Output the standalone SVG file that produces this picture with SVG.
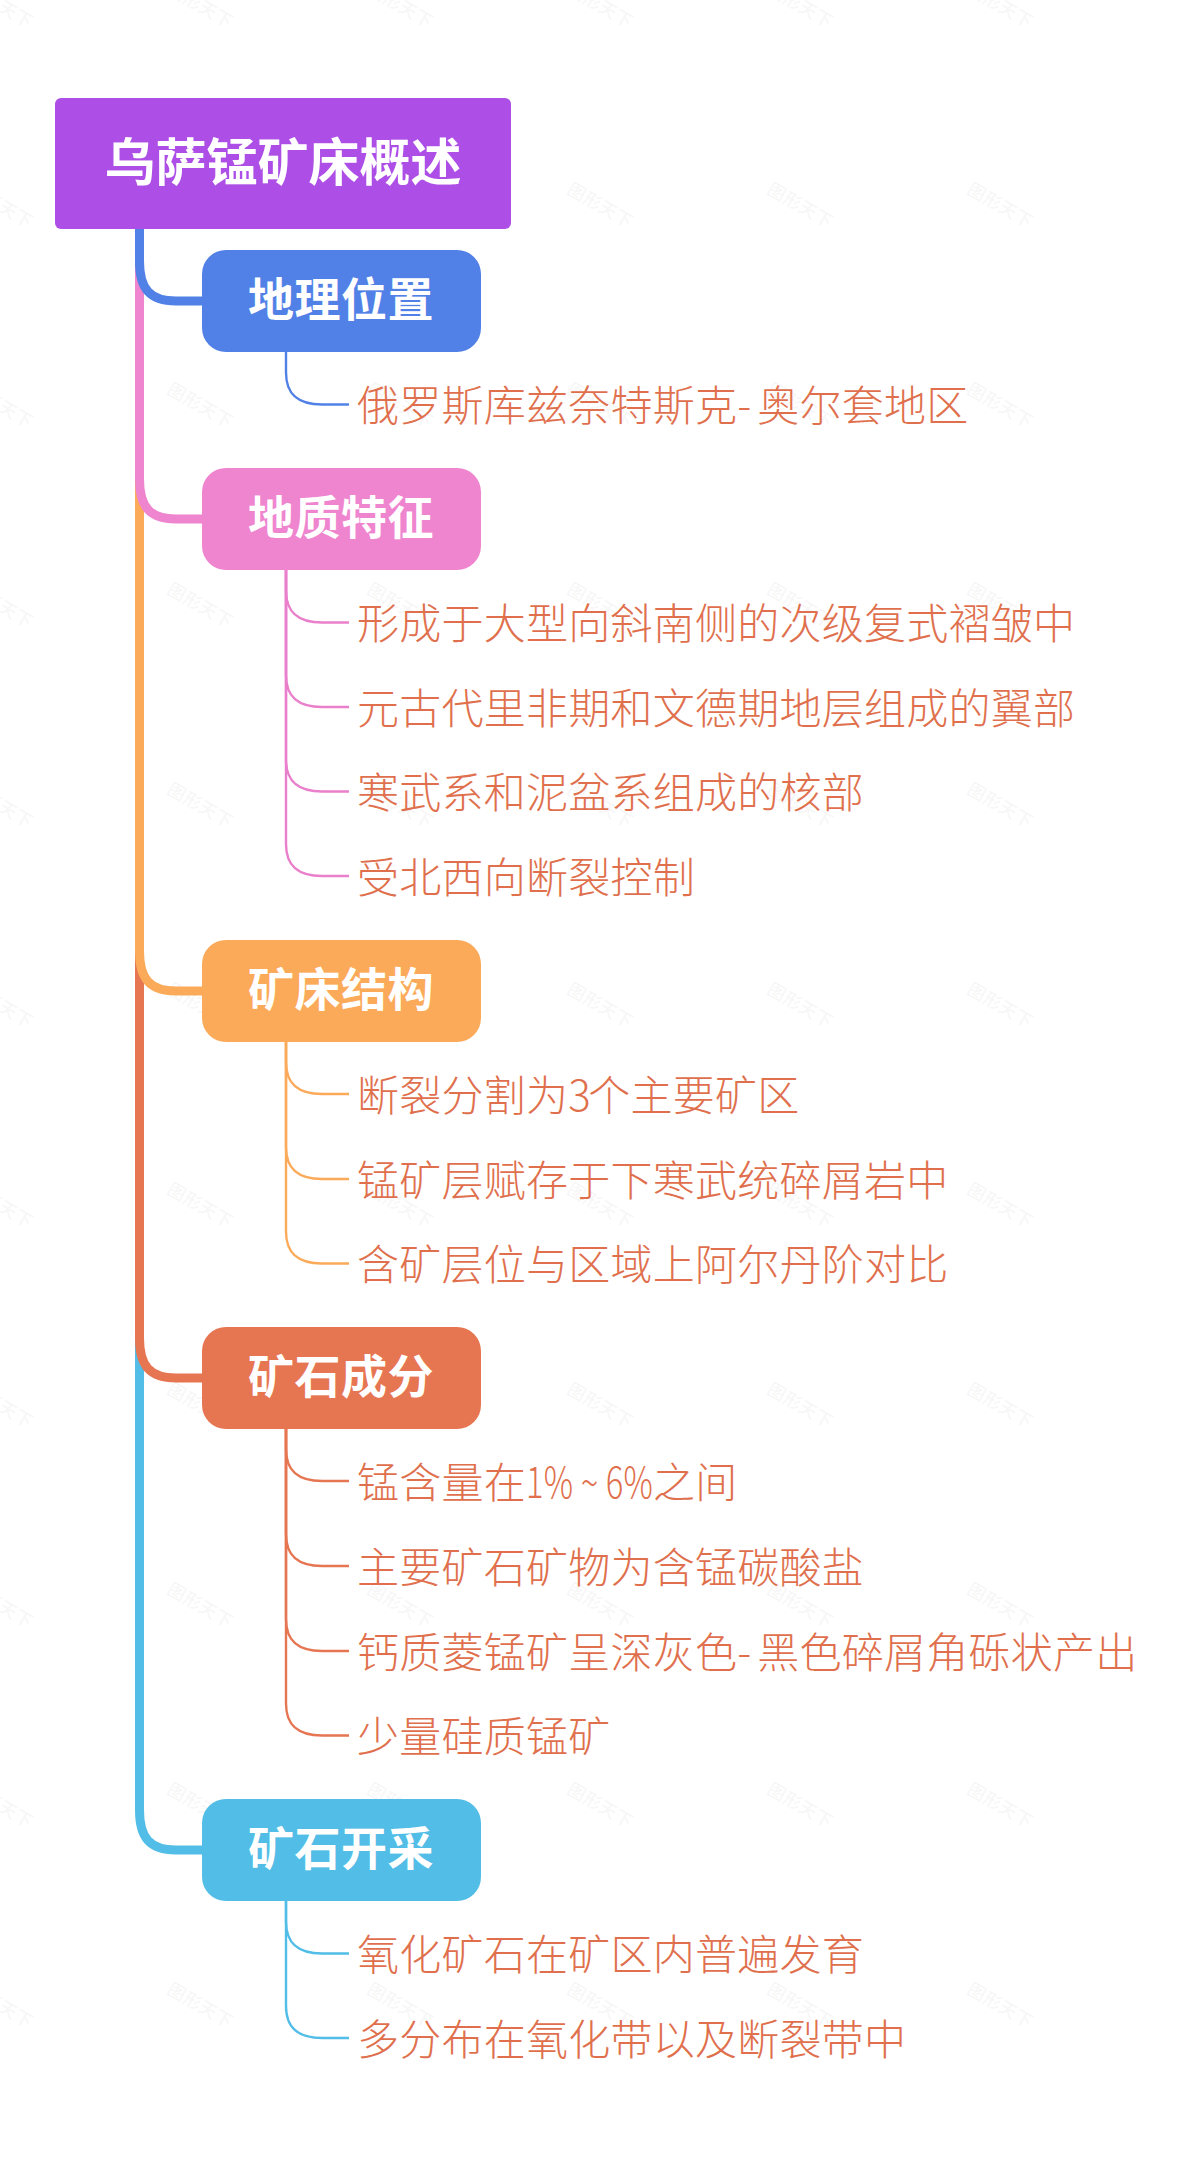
<svg xmlns="http://www.w3.org/2000/svg" width="1200" height="2169" viewBox="0 0 1200 2169">
<style>
.wm{font:bold 18px "Noto Sans CJK SC",sans-serif;fill:#000;fill-opacity:.04;text-anchor:middle}
.t{font-family:"Noto Sans CJK SC",sans-serif;font-size:42px;font-weight:300;letter-spacing:.25px;fill:#E0704D}
.n{font-family:"Noto Sans CJK SC",sans-serif;font-size:46px;font-weight:700;letter-spacing:.5px;fill:#fff;text-anchor:middle}
.r{font-family:"Noto Sans CJK SC",sans-serif;font-size:51px;font-weight:700;fill:#fff;text-anchor:middle}
.c{fill:none}
.b{stroke:#5181E6}.p{stroke:#EA7FCB}.o{stroke:#FBAA5A}.e{stroke:#E67552}.s{stroke:#52BDE6}
#trunks path{stroke-width:9}
#trunks .p{stroke:#EF84CF}
#leaves path{stroke-width:2.4}
</style>
<rect width="1200" height="2169" fill="#fff"/>
<g id="watermark">
<text class="wm" transform="translate(-3 11) rotate(30)">图形天下</text><text class="wm" transform="translate(197 11) rotate(30)">图形天下</text><text class="wm" transform="translate(397 11) rotate(30)">图形天下</text><text class="wm" transform="translate(597 11) rotate(30)">图形天下</text><text class="wm" transform="translate(797 11) rotate(30)">图形天下</text><text class="wm" transform="translate(997 11) rotate(30)">图形天下</text>
<text class="wm" transform="translate(-3 211) rotate(30)">图形天下</text><text class="wm" transform="translate(597 211) rotate(30)">图形天下</text><text class="wm" transform="translate(797 211) rotate(30)">图形天下</text><text class="wm" transform="translate(997 211) rotate(30)">图形天下</text>
<text class="wm" transform="translate(-3 411) rotate(30)">图形天下</text><text class="wm" transform="translate(197 411) rotate(30)">图形天下</text><text class="wm" transform="translate(397 411) rotate(30)">图形天下</text><text class="wm" transform="translate(597 411) rotate(30)">图形天下</text><text class="wm" transform="translate(797 411) rotate(30)">图形天下</text><text class="wm" transform="translate(997 411) rotate(30)">图形天下</text>
<text class="wm" transform="translate(-3 611) rotate(30)">图形天下</text><text class="wm" transform="translate(197 611) rotate(30)">图形天下</text><text class="wm" transform="translate(397 611) rotate(30)">图形天下</text><text class="wm" transform="translate(597 611) rotate(30)">图形天下</text><text class="wm" transform="translate(797 611) rotate(30)">图形天下</text><text class="wm" transform="translate(997 611) rotate(30)">图形天下</text>
<text class="wm" transform="translate(-3 811) rotate(30)">图形天下</text><text class="wm" transform="translate(197 811) rotate(30)">图形天下</text><text class="wm" transform="translate(397 811) rotate(30)">图形天下</text><text class="wm" transform="translate(597 811) rotate(30)">图形天下</text><text class="wm" transform="translate(797 811) rotate(30)">图形天下</text><text class="wm" transform="translate(997 811) rotate(30)">图形天下</text>
<text class="wm" transform="translate(-3 1011) rotate(30)">图形天下</text><text class="wm" transform="translate(197 1011) rotate(30)">图形天下</text><text class="wm" transform="translate(397 1011) rotate(30)">图形天下</text><text class="wm" transform="translate(597 1011) rotate(30)">图形天下</text><text class="wm" transform="translate(797 1011) rotate(30)">图形天下</text><text class="wm" transform="translate(997 1011) rotate(30)">图形天下</text>
<text class="wm" transform="translate(-3 1211) rotate(30)">图形天下</text><text class="wm" transform="translate(197 1211) rotate(30)">图形天下</text><text class="wm" transform="translate(397 1211) rotate(30)">图形天下</text><text class="wm" transform="translate(597 1211) rotate(30)">图形天下</text><text class="wm" transform="translate(797 1211) rotate(30)">图形天下</text><text class="wm" transform="translate(997 1211) rotate(30)">图形天下</text>
<text class="wm" transform="translate(-3 1411) rotate(30)">图形天下</text><text class="wm" transform="translate(197 1411) rotate(30)">图形天下</text><text class="wm" transform="translate(397 1411) rotate(30)">图形天下</text><text class="wm" transform="translate(597 1411) rotate(30)">图形天下</text><text class="wm" transform="translate(797 1411) rotate(30)">图形天下</text><text class="wm" transform="translate(997 1411) rotate(30)">图形天下</text>
<text class="wm" transform="translate(-3 1611) rotate(30)">图形天下</text><text class="wm" transform="translate(197 1611) rotate(30)">图形天下</text><text class="wm" transform="translate(397 1611) rotate(30)">图形天下</text><text class="wm" transform="translate(597 1611) rotate(30)">图形天下</text><text class="wm" transform="translate(797 1611) rotate(30)">图形天下</text><text class="wm" transform="translate(997 1611) rotate(30)">图形天下</text>
<text class="wm" transform="translate(-3 1811) rotate(30)">图形天下</text><text class="wm" transform="translate(197 1811) rotate(30)">图形天下</text><text class="wm" transform="translate(397 1811) rotate(30)">图形天下</text><text class="wm" transform="translate(597 1811) rotate(30)">图形天下</text><text class="wm" transform="translate(797 1811) rotate(30)">图形天下</text><text class="wm" transform="translate(997 1811) rotate(30)">图形天下</text>
<text class="wm" transform="translate(-3 2011) rotate(30)">图形天下</text><text class="wm" transform="translate(197 2011) rotate(30)">图形天下</text><text class="wm" transform="translate(397 2011) rotate(30)">图形天下</text><text class="wm" transform="translate(597 2011) rotate(30)">图形天下</text><text class="wm" transform="translate(797 2011) rotate(30)">图形天下</text><text class="wm" transform="translate(997 2011) rotate(30)">图形天下</text>
</g>
<g id="connectors" class="c">
<g id="trunks">
<path class="s" d="M139.500 229V1810C139.500 1838 150 1850 176 1850H202"/>
<path class="e" d="M139.500 229V1338C139.500 1366 150 1378 176 1378H202"/>
<path class="o" d="M139.500 229V951C139.500 979 150 991 176 991H202"/>
<path class="p" d="M139.500 229V479C139.500 507 150 519 176 519H202"/>
<path class="b" d="M139.500 229V261C139.500 289 150 301 176 301H202"/>
</g>
<g id="leaves">
<path class="b" d="M286 352V372.500C286 394.500 298 404.500 322 404.500H349"/>
<path class="p" d="M286 570V590.500C286 612.500 298 622.500 322 622.500H349"/>
<path class="p" d="M286 570V675C286 697 298 707 322 707H349"/>
<path class="p" d="M286 570V759.500C286 781.500 298 791.500 322 791.500H349"/>
<path class="p" d="M286 570V844C286 866 298 876 322 876H349"/>
<path class="o" d="M286 1042V1062C286 1084 298 1094 322 1094H349"/>
<path class="o" d="M286 1042V1147C286 1169 298 1179 322 1179H349"/>
<path class="o" d="M286 1042V1231.500C286 1253.500 298 1263.500 322 1263.500H349"/>
<path class="e" d="M286 1429V1449C286 1471 298 1481 322 1481H349"/>
<path class="e" d="M286 1429V1534C286 1556 298 1566 322 1566H349"/>
<path class="e" d="M286 1429V1619C286 1641 298 1651 322 1651H349"/>
<path class="e" d="M286 1429V1703.500C286 1725.500 298 1735.500 322 1735.500H349"/>
<path class="s" d="M286 1901V1921.500C286 1943.500 298 1953.500 322 1953.500H349"/>
<path class="s" d="M286 1901V2006C286 2028 298 2038 322 2038H349"/>
</g>
</g>
<g id="root"><rect x="55" y="98" width="456" height="131" rx="6" fill="#AD4FE6"/><text class="r" x="283" y="181">乌萨锰矿床概述</text></g>
<g id="n1"><rect x="202" y="250" width="279" height="102" rx="24" fill="#5181E6"/><text class="n" x="341" y="316">地理位置</text></g>
<g id="n2"><rect x="202" y="468" width="279" height="102" rx="24" fill="#EF84CF"/><text class="n" x="341" y="534">地质特征</text></g>
<g id="n3"><rect x="202" y="940" width="279" height="102" rx="24" fill="#FBAA5A"/><text class="n" x="341" y="1006">矿床结构</text></g>
<g id="n4"><rect x="202" y="1327" width="279" height="102" rx="24" fill="#E67552"/><text class="n" x="341" y="1393">矿石成分</text></g>
<g id="n5"><rect x="202" y="1799" width="279" height="102" rx="24" fill="#52BDE6"/><text class="n" x="341" y="1865">矿石开采</text></g>
<g id="l11"><text class="t" x="357" y="421">俄罗斯库兹奈特斯克<tspan letter-spacing="6">-</tspan>奥尔套地区</text></g>
<g id="l21"><text class="t" x="357" y="639">形成于大型向斜南侧的次级复式褶皱中</text></g>
<g id="l22"><text class="t" x="357" y="723.500">元古代里非期和文德期地层组成的翼部</text></g>
<g id="l23"><text class="t" x="357" y="808">寒武系和泥盆系组成的核部</text></g>
<g id="l24"><text class="t" x="357" y="892.500">受北西向断裂控制</text></g>
<g id="l31"><text class="t" x="357" y="1110.500">断裂分割为<tspan letter-spacing="-2.500">3</tspan>个主要矿区</text></g>
<g id="l32"><text class="t" x="357" y="1195.500">锰矿层赋存于下寒武统碎屑岩中</text></g>
<g id="l33"><text class="t" x="357" y="1280">含矿层位与区域上阿尔丹阶对比</text></g>
<g id="l41"><text class="t" x="357" y="1497.500">锰含量在<tspan textLength="127" lengthAdjust="spacingAndGlyphs">1% ~ 6%</tspan>之间</text></g>
<g id="l42"><text class="t" x="357" y="1582.500">主要矿石矿物为含锰碳酸盐</text></g>
<g id="l43"><text class="t" x="357" y="1667.500">钙质菱锰矿呈深灰色<tspan letter-spacing="6">-</tspan>黑色碎屑角砾状产出</text></g>
<g id="l44"><text class="t" x="357" y="1752">少量硅质锰矿</text></g>
<g id="l51"><text class="t" x="357" y="1970">氧化矿石在矿区内普遍发育</text></g>
<g id="l52"><text class="t" x="357" y="2054.500">多分布在氧化带以及断裂带中</text></g>
</svg>
